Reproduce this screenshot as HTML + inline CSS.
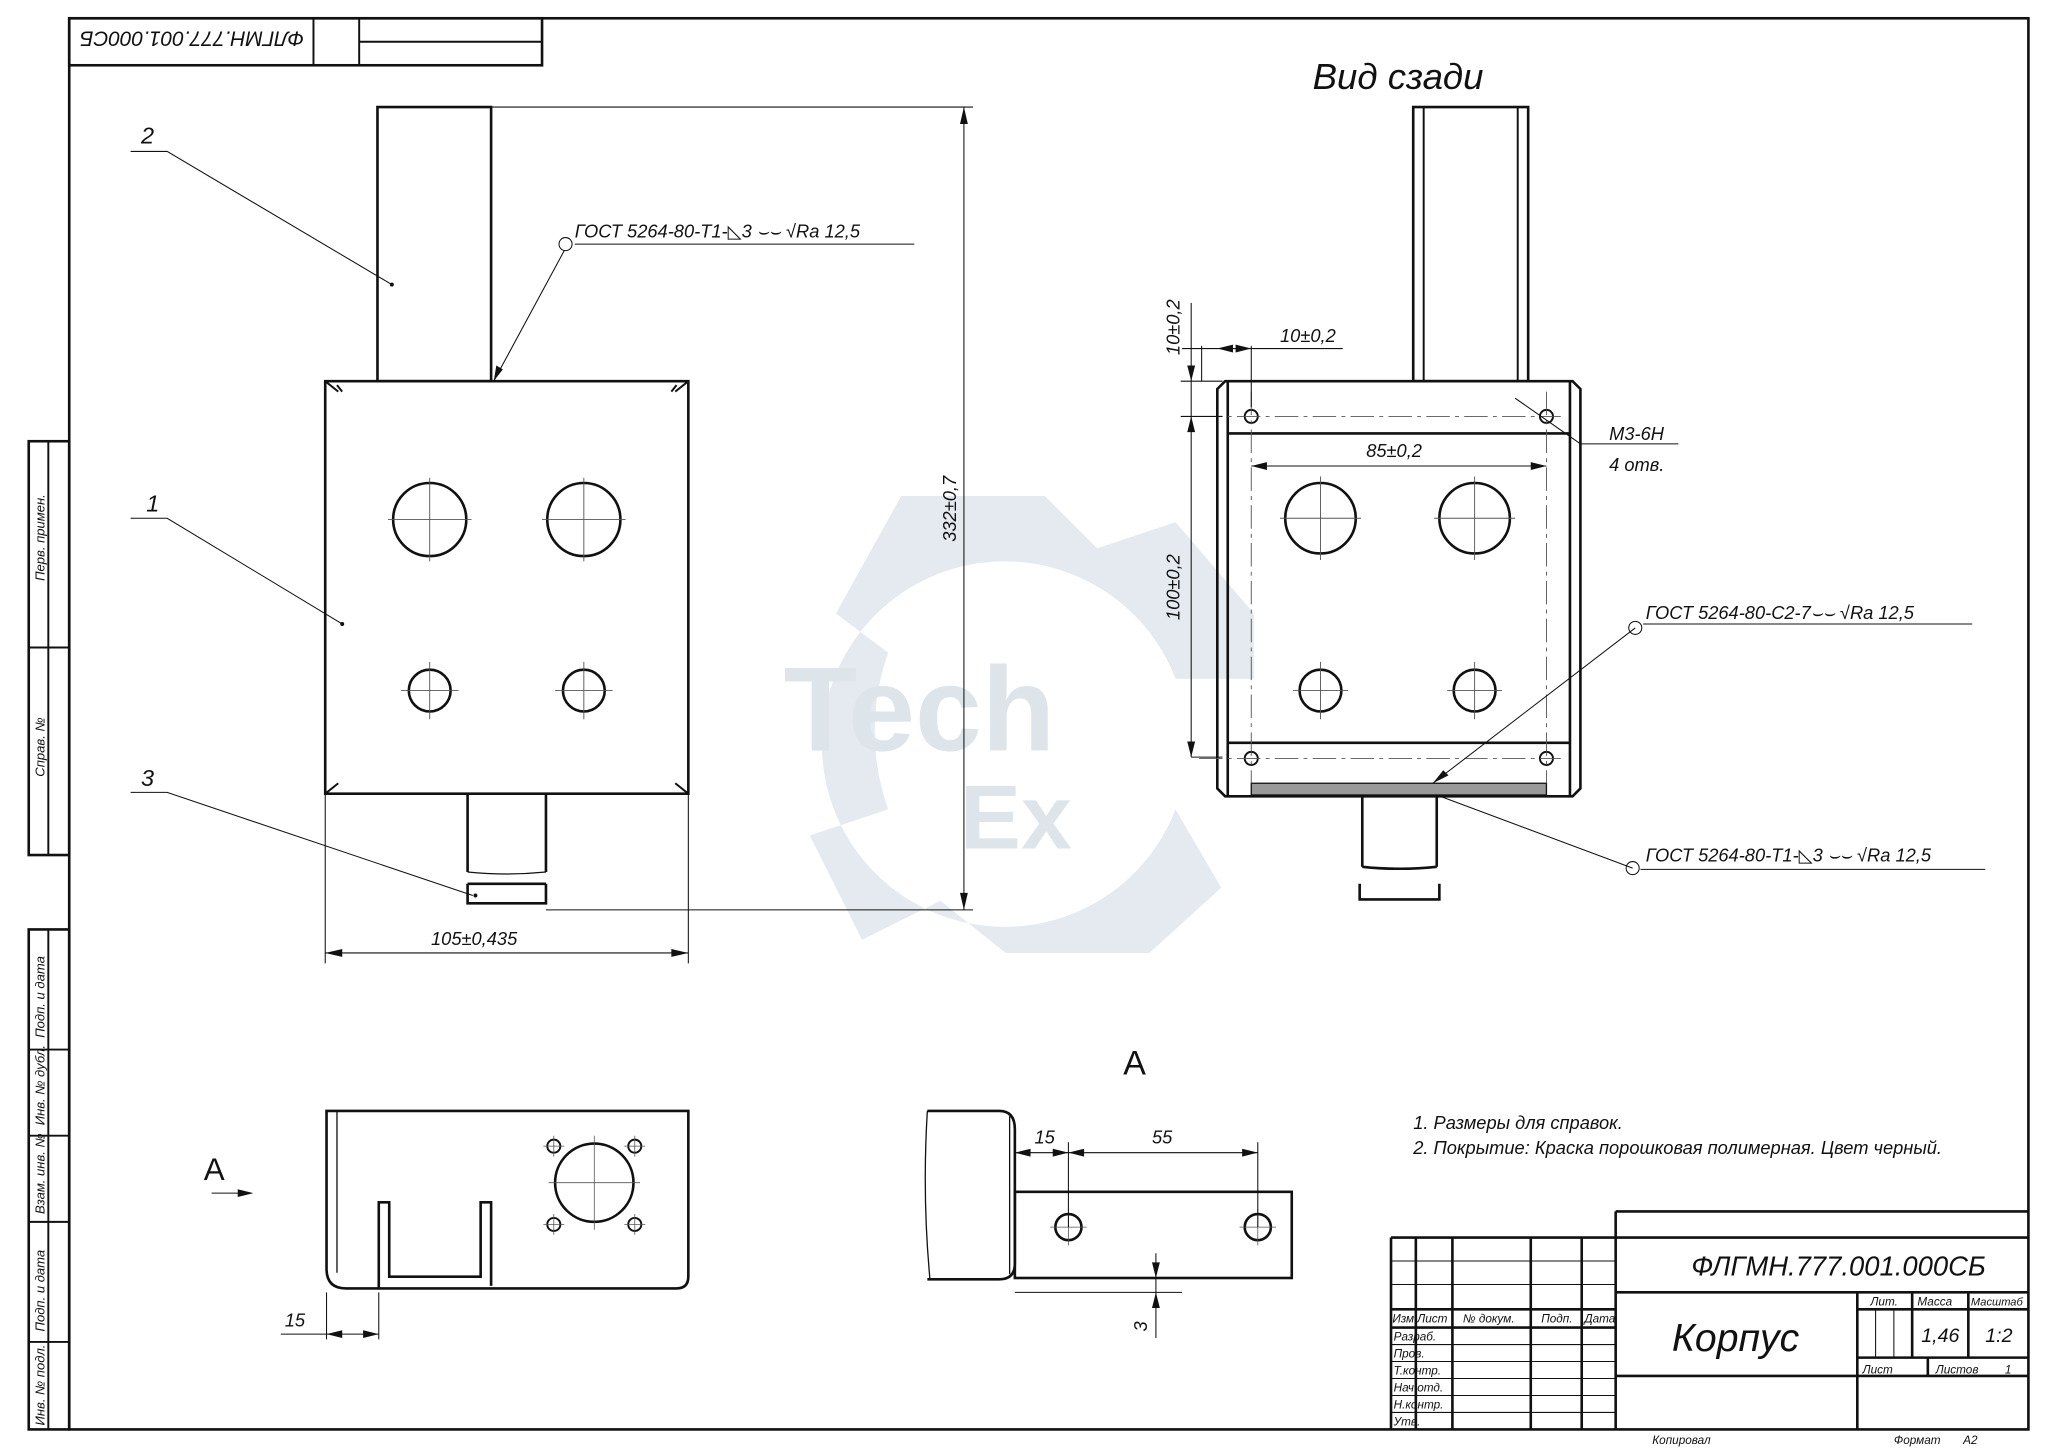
<!DOCTYPE html>
<html><head><meta charset="utf-8"><style>
html,body{margin:0;padding:0;background:#fff;width:2048px;height:1449px;overflow:hidden}
svg{display:block}
text{font-family:"Liberation Sans","DejaVu Sans",sans-serif;font-style:italic;fill:#111}
</style></head><body>
<svg width="2048" height="1449" viewBox="0 0 1568 1110" preserveAspectRatio="none" xmlns="http://www.w3.org/2000/svg">
<rect width="1568" height="1110" fill="#fff"/>
<!-- watermark -->
<g fill="#e4eaef">
<path d="M640 470 L690 380 L800 380 L840 420 L900 400 L960 470 L960 520 L900 520 A140 140 0 1 0 900 620 L935 680 L880 730 L770 730 L720 690 L660 720 L620 640 L680 620 A180 180 0 0 1 680 500 Z"/>
</g>
<text x="600" y="575" font-size="92" style="font-style:normal;fill:#dde4ea;font-weight:bold">Tech</text>
<text x="735" y="650" font-size="70" style="font-style:normal;fill:#dde4ea;font-weight:bold">Ex</text>
<g fill="none" stroke="#111">
<!-- frame -->
<rect x="53" y="14" width="1500" height="1081" stroke-width="2"/>
<rect x="53" y="14" width="362" height="36" stroke-width="2"/>
<line x1="240" y1="14" x2="240" y2="50" stroke-width="1.5"/>
<line x1="275" y1="14" x2="275" y2="50" stroke-width="1.5"/>
<line x1="275" y1="32" x2="415" y2="32" stroke-width="1.5"/>
<rect x="22" y="338" width="31" height="317" stroke-width="2"/>
<line x1="37" y1="338" x2="37" y2="655" stroke-width="1.5"/>
<line x1="22" y1="496" x2="53" y2="496" stroke-width="1.5"/>
<rect x="22" y="712" width="31" height="383" stroke-width="2"/>
<line x1="37" y1="712" x2="37" y2="1095" stroke-width="1.5"/>
<line x1="22" y1="804" x2="53" y2="804" stroke-width="1.5"/>
<line x1="22" y1="870" x2="53" y2="870" stroke-width="1.5"/>
<line x1="22" y1="936" x2="53" y2="936" stroke-width="1.5"/>
<line x1="22" y1="1028" x2="53" y2="1028" stroke-width="1.5"/>

<!-- main view -->
<rect x="289" y="82" width="87" height="210" stroke-width="2"/>
<rect x="249" y="292" width="278" height="316" stroke-width="2"/>
<path d="M249 292 l10 8 M527 292 l-10 8 M249 608 l10-8 M527 608 l-10-8 M262 300 l-4 -5 M514 300 l4 -5" stroke-width="1.5"/>
<circle cx="329" cy="398" r="28" stroke-width="2"/><circle cx="447" cy="398" r="28" stroke-width="2"/>
<circle cx="329" cy="529" r="16" stroke-width="2"/><circle cx="447" cy="529" r="16" stroke-width="2"/>
<g stroke-width="0.7" stroke="#555">
<path d="M297 398h64M329 366v64M415 398h64M447 366v64M307 529h44M329 507v44M425 529h44M447 507v44"/>
</g>
<path d="M358 608 V668 M418 608 V668 M358 677 V692 H418 V677 M358 677 H418" stroke-width="2"/>
<path d="M358 668 q30 3 60 0" stroke-width="1"/>
<g stroke-width="0.8">
<path d="M376 82 H745 M418 697 H745 M738 82 V697"/>
<path d="M249 608 V738 M527 608 V738 M249 730 H527"/>
<path d="M100 116 H128 L300 218 M100 397 H128 L262 478 M100 607 H128 L362 686"/>
<path d="M378 292 L432 192 M440 187 H700"/>
</g>
<circle cx="433" cy="187" r="5" stroke-width="0.8"/>
</g>
<g fill="#111">
<polygon points="738,82 735,95 741,95"/><polygon points="738,697 735,684 741,684"/>
<polygon points="249,730 262,727 262,733"/><polygon points="527,730 514,727 514,733"/>
<polygon points="378,292 380,280 385,283"/>
<circle cx="300" cy="218" r="1.5"/><circle cx="262" cy="478" r="1.5"/><circle cx="364" cy="686" r="1.5"/>
</g>
<text x="108" y="110" font-size="18">2</text>
<text x="112" y="392" font-size="18">1</text>
<text x="108" y="602" font-size="18">3</text>
<text x="440" y="182" font-size="14">ГОСТ 5264-80-Т1-◺3 ⌣⌣ √Ra 12,5</text>
<text x="330" y="724" font-size="14">105±0,435</text>
<text x="732" y="415" font-size="14" transform="rotate(-90 732 415)">332±0,7</text>

<!-- right view -->
<text x="1005" y="68" font-size="28">Вид сзади</text>
<g fill="none" stroke="#111">
<rect x="1082" y="82" width="88" height="210" stroke-width="2"/>
<path d="M1090 82V292M1162 82V292" stroke-width="1.5"/>
<path d="M938 292 H1204 L1210 298 V604 L1204 610 H938 L932 604 V298 Z" stroke-width="2"/>
<path d="M940 292V610M1202 292V610M940 332H1202M940 569H1202" stroke-width="2"/>
<rect x="958" y="600" width="226" height="9" fill="#999" stroke-width="1"/>
<circle cx="958" cy="319" r="5" stroke-width="1.5"/><circle cx="1184" cy="319" r="5" stroke-width="1.5"/>
<circle cx="958" cy="581" r="5" stroke-width="1.5"/><circle cx="1184" cy="581" r="5" stroke-width="1.5"/>
<circle cx="1011" cy="397" r="27" stroke-width="2"/><circle cx="1129" cy="397" r="27" stroke-width="2"/>
<circle cx="1011" cy="529" r="16" stroke-width="2"/><circle cx="1129" cy="529" r="16" stroke-width="2"/>
<g stroke-width="0.7" stroke="#555">
<path d="M980 397h62M1011 365v64M1098 397h62M1129 365v64M990 529h42M1011 507v44M1108 529h42M1129 507v44"/>
<path d="M918 319H1195M918 581H1195M958 300V600M1184 300V600" stroke-dasharray="18 4 3 4"/>
</g>
<g stroke-width="0.8">
<path d="M904 292H936M904 319H936M912 232V580M912 580H936"/>
<path d="M920 265V292M958 265V312M905 267H1028"/>
<path d="M958 357H1184"/>
<path d="M1160 305L1210 340H1285"/>
<path d="M1097 600L1252 481 M1258 478H1510"/>
<path d="M1100 609L1250 665 M1256 666H1520"/>
</g>
<circle cx="1252" cy="481" r="5" stroke-width="0.8"/>
<circle cx="1250" cy="665" r="5" stroke-width="0.8"/>
<path d="M1043 610V664M1100 610V664M1041 677V689H1102V677M1043 664q28 3 57 0" stroke-width="2"/>
</g>
<g fill="#111">
<polygon points="912,292 909,280 915,280"/><polygon points="912,319 909,331 915,331"/><polygon points="912,580 909,568 915,568"/>
<polygon points="958,267 946,264 946,270"/><polygon points="932,267 944,264 944,270"/>
<polygon points="958,357 970,354 970,360"/><polygon points="1184,357 1172,354 1172,360"/>
<polygon points="1097,600 1105,590 1109,594"/>
</g>
<text x="980" y="262" font-size="14">10±0,2</text>
<text x="903" y="272" font-size="14" transform="rotate(-90 903 272)">10±0,2</text>
<text x="1046" y="350" font-size="14">85±0,2</text>
<text x="903" y="475" font-size="14" transform="rotate(-90 903 475)">100±0,2</text>
<text x="1232" y="337" font-size="14">М3-6Н</text>
<text x="1232" y="361" font-size="14">4 отв.</text>
<text x="1260" y="474" font-size="14">ГОСТ 5264-80-С2-7⌣⌣ √Ra 12,5</text>
<text x="1260" y="660" font-size="14">ГОСТ 5264-80-Т1-◺3 ⌣⌣ √Ra 12,5</text>

<!-- bottom views -->
<text x="860" y="823" font-size="26" style="font-style:normal">А</text>
<text x="156" y="904" font-size="24" style="font-style:normal">А</text>
<g fill="none" stroke="#111">
<path d="M258 851H527V978Q527 987 518 987H265Q250 987 250 972V851Z" stroke-width="2"/>
<path d="M258 851V975" stroke-width="1"/>
<path d="M290 987V921H298V978H368V921H376V985M290 921H298M368 921H376" stroke-width="2"/>
<circle cx="455" cy="906" r="30" stroke-width="2"/>
<circle cx="424" cy="878" r="5" stroke-width="1.5"/><circle cx="486" cy="878" r="5" stroke-width="1.5"/>
<circle cx="424" cy="938" r="5" stroke-width="1.5"/><circle cx="486" cy="938" r="5" stroke-width="1.5"/>
<path d="M420 906h70M455 870v72M416 878h16M424 870v16M478 878h16M486 870v16M416 938h16M424 930v16M478 938h16M486 930v16" stroke-width="0.6" stroke="#555"/>
<path d="M162 914H190M250 990V1026M290 990V1026M215 1022H290" stroke-width="0.8"/>
<path d="M710 851H765Q777 851 777 865V968Q777 980 765 980H710" stroke-width="2"/>
<path d="M710 851q-4 65 2 129M773 855V976" stroke-width="1"/>
<rect x="777" y="913" width="212" height="66" stroke-width="2"/>
<circle cx="818" cy="940" r="10" stroke-width="2"/><circle cx="963" cy="940" r="10" stroke-width="2"/>
<path d="M804 940h28M818 926v28M949 940h28M963 926v28" stroke-width="0.6" stroke="#555"/>
<path d="M818 875V940M963 875V940M777 883H963M777 990H905M885 960V1025" stroke-width="0.8"/>
</g>
<g fill="#111">
<polygon points="194,914 182,911 182,917"/>
<polygon points="250,1022 262,1019 262,1025"/><polygon points="290,1022 278,1019 278,1025"/>
<polygon points="777,883 789,880 789,886"/><polygon points="818,883 806,880 806,886"/><polygon points="818,883 830,880 830,886"/><polygon points="963,883 951,880 951,886"/>
<polygon points="885,979 882,967 888,967"/><polygon points="885,990 882,1002 888,1002"/>
</g>
<text x="218" y="1016" font-size="14">15</text>
<text x="792" y="876" font-size="14">15</text>
<text x="882" y="876" font-size="14">55</text>
<text x="878" y="1020" font-size="14" transform="rotate(-90 878 1020)">3</text>
<text x="1082" y="865" font-size="14">1. Размеры для справок.</text>
<text x="1082" y="884" font-size="14">2. Покрытие: Краска порошковая полимерная. Цвет черный.</text>

<!-- title block -->
<g fill="none" stroke="#111">
<path d="M1237 928H1553M1237 928V1095M1065 948H1553M1065 948V1095" stroke-width="2"/>
<path d="M1237 990H1553M1065 1003H1237M1065 1017H1237M1237 1054H1553M1422 990V1095M1422 1003H1553M1422 1040H1553M1464 990V1040M1507 990V1040M1476 1040V1054" stroke-width="2"/>
<path d="M1084 948V1095M1112 948V1095M1172 948V1095M1211 948V1095" stroke-width="2"/>
<path d="M1065 966H1237M1065 984H1237M1065 1030H1237M1065 1043H1237M1065 1056H1237M1065 1069H1237M1065 1082H1237" stroke-width="0.8"/>
<path d="M1436 1003V1040M1450 1003V1040" stroke-width="0.8"/>
</g>
<g font-size="9">
<text x="1066" y="1013">Изм.</text><text x="1085" y="1013">Лист</text><text x="1120" y="1013">№ докум.</text><text x="1180" y="1013">Подп.</text><text x="1213" y="1013">Дата</text>
<text x="1067" y="1027">Разраб.</text><text x="1067" y="1040">Пров.</text><text x="1067" y="1053">Т.контр.</text><text x="1067" y="1066">Нач.отд.</text><text x="1067" y="1079">Н.контр.</text><text x="1067" y="1092">Утв.</text>
<text x="1432" y="1000">Лит.</text><text x="1468" y="1000">Масса</text><text x="1509" y="1000" font-size="8.5">Масштаб</text>
<text x="1426" y="1052">Лист</text><text x="1482" y="1052">Листов</text><text x="1535" y="1052">1</text>
<text x="1265" y="1106">Копировал</text><text x="1450" y="1106">Формат</text><text x="1503" y="1106">А2</text>
</g>
<text x="1295" y="977" font-size="21">ФЛГМН.777.001.000СБ</text>
<text x="1280" y="1035" font-size="30">Корпус</text>
<text x="1471" y="1028" font-size="15">1,46</text>
<text x="1520" y="1028" font-size="15">1:2</text>
<text x="0" y="0" font-size="16" text-anchor="middle" transform="translate(147 24) rotate(180)">ФЛГМН.777.001.000СБ</text>
<g font-size="10">
<text transform="translate(34 445) rotate(-90)">Перв. примен.</text>
<text transform="translate(34 595) rotate(-90)">Справ. №</text>
<text transform="translate(34 795) rotate(-90)">Подп. и дата</text>
<text transform="translate(34 862) rotate(-90)">Инв. № дубл.</text>
<text transform="translate(34 930) rotate(-90)">Взам. инв. №</text>
<text transform="translate(34 1020) rotate(-90)">Подп. и дата</text>
<text transform="translate(34 1092) rotate(-90)">Инв. № подл.</text>
</g>
</svg>
</body></html>
